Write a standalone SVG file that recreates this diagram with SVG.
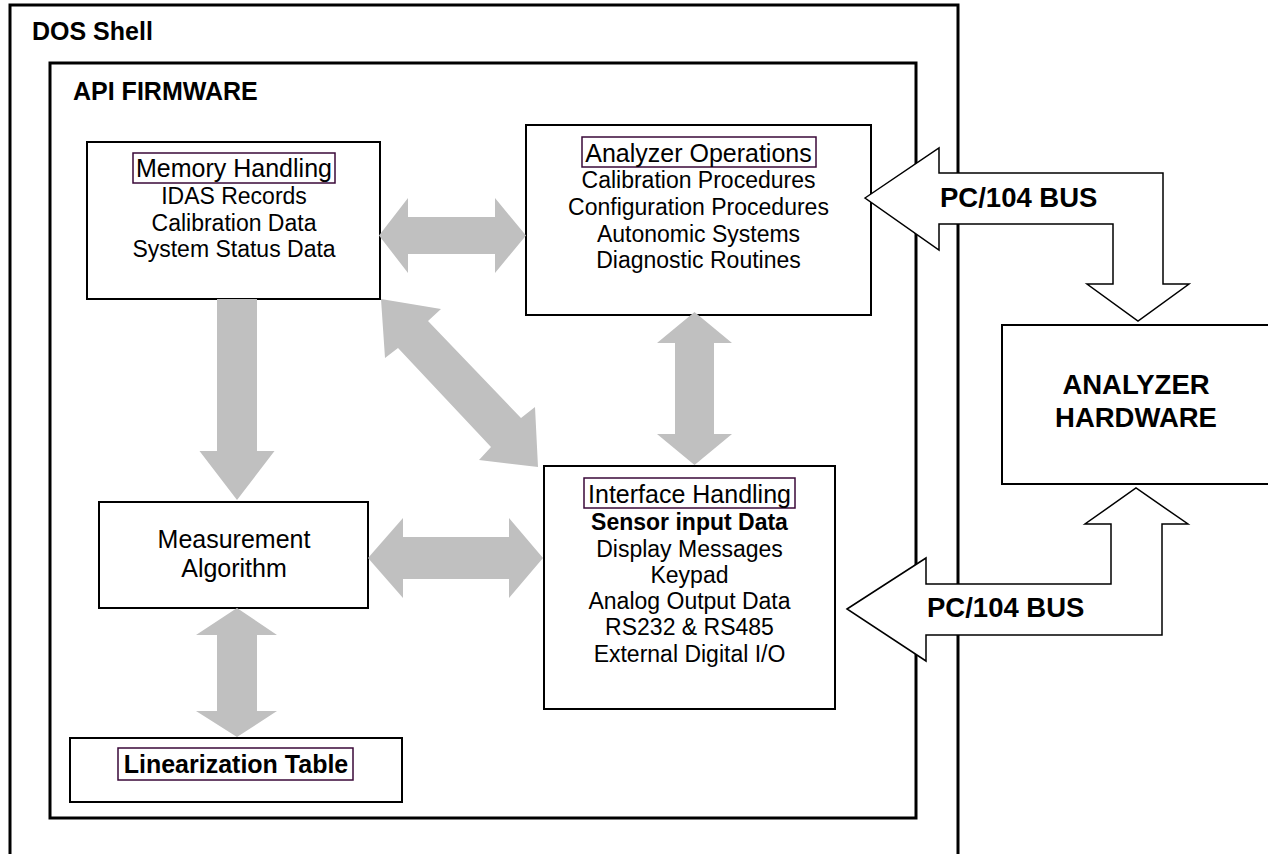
<svg xmlns="http://www.w3.org/2000/svg" width="1268" height="854" viewBox="0 0 1268 854">
<style>
text{font-family:"Liberation Sans",Arial,sans-serif;fill:#000}
.frame{fill:none;stroke:#000;stroke-width:3}
.box{fill:#fff;stroke:#000;stroke-width:2}
.tbox{fill:none;stroke:#3a0838;stroke-width:1.5}
.title{font-size:25px;text-anchor:middle}
.body{font-size:23px;text-anchor:middle}
.hdr{font-size:25px;font-weight:bold}
.gray{fill:#c0c0c0;stroke:none}
.bus{fill:#fff;stroke:#000;stroke-width:1.5;stroke-linejoin:miter}
.busl{font-size:27.5px;font-weight:bold}
</style>
<rect width="1268" height="854" fill="#fff"/>
<g id="dos-shell">
<path class="frame" d="M10,860 V5 H958 V860"/>
<text class="hdr" x="32" y="40">DOS Shell</text>
</g>
<g id="api-firmware">
<rect class="frame" x="50" y="63" width="866" height="755"/>
<text class="hdr" x="73" y="100">API FIRMWARE</text>
</g>
<g id="memory-handling">
<rect class="box" x="87" y="142" width="293" height="157"/>
<rect class="tbox" x="133" y="153" width="202" height="30"/>
<text class="title" x="234" y="177">Memory Handling</text>
<text class="body" x="234" y="204">IDAS Records</text>
<text class="body" x="234" y="231">Calibration Data</text>
<text class="body" x="234" y="257">System Status Data</text>
</g>
<g id="analyzer-operations">
<rect class="box" x="526" y="125" width="345" height="190"/>
<rect class="tbox" x="582" y="137" width="234" height="30"/>
<text class="title" x="698.5" y="162">Analyzer Operations</text>
<text class="body" x="698.5" y="188">Calibration Procedures</text>
<text class="body" x="698.5" y="215">Configuration Procedures</text>
<text class="body" x="698.5" y="242">Autonomic Systems</text>
<text class="body" x="698.5" y="268">Diagnostic Routines</text>
</g>
<g id="interface-handling">
<rect class="box" x="544" y="466" width="291" height="243"/>
<rect class="tbox" x="584" y="478" width="211" height="30"/>
<text class="title" x="689.5" y="503">Interface Handling</text>
<text class="body" x="689.5" y="530" font-weight="bold">Sensor input Data</text>
<text class="body" x="689.5" y="557">Display Messages</text>
<text class="body" x="689.5" y="583">Keypad</text>
<text class="body" x="689.5" y="609">Analog Output Data</text>
<text class="body" x="689.5" y="635">RS232 &amp; RS485</text>
<text class="body" x="689.5" y="662">External Digital I/O</text>
</g>
<g id="measurement-algorithm">
<rect class="box" x="99" y="502" width="269" height="106"/>
<text class="title" x="234" y="548">Measurement</text>
<text class="title" x="234" y="577">Algorithm</text>
</g>
<g id="linearization-table">
<rect class="box" x="70" y="738" width="332" height="64"/>
<rect class="tbox" x="118" y="748" width="235" height="32"/>
<text class="title" x="236" y="773" font-weight="bold">Linearization Table</text>
</g>
<g id="analyzer-hardware">
<rect class="box" x="1002" y="325" width="290" height="159"/>
<text class="busl" x="1136" y="394" text-anchor="middle">ANALYZER</text>
<text class="busl" x="1136" y="427" text-anchor="middle">HARDWARE</text>
</g>
<g id="connectors">
<polygon class="gray" points="379,235.5 408,198 408,217 495,217 495,198 526,235.5 495,273 495,254 408,254 408,273"/>
<polygon class="gray" points="368,558 403,518 403,537 509,537 509,518 543,558 509,598 509,579 403,579 403,598"/>
<polygon class="gray" points="694.5,312 732,343 714,343 714,434 732,434 694.5,465 657,434 675,434 675,343 657,343"/>
<polygon class="gray" points="217,299 257,299 257,451 274.5,451 237,500 199.5,451 217,451"/>
<polygon class="gray" points="237,608 277,635 257,635 257,711 277,711 237,737 196,711 217,711 217,635 196,635"/>
<polygon class="gray" points="381,299 441,309 428,321 521,418 535,407 538,467 479,460 491,447 398,348 385,358"/>
<polygon class="bus" points="865,198 939,148 939,173 1163,173 1163,284 1189,284 1138,321 1087,284 1113,284 1113,224 939,224 939,250"/>
<text class="busl" x="940" y="207">PC/104 BUS</text>
<polygon class="bus" points="847,609 926,558 926,584 1111,584 1111,524 1085,524 1136,488 1188,524 1162,524 1162,635 926,635 926,661"/>
<text class="busl" x="927" y="617">PC/104 BUS</text>
</g>
</svg>
